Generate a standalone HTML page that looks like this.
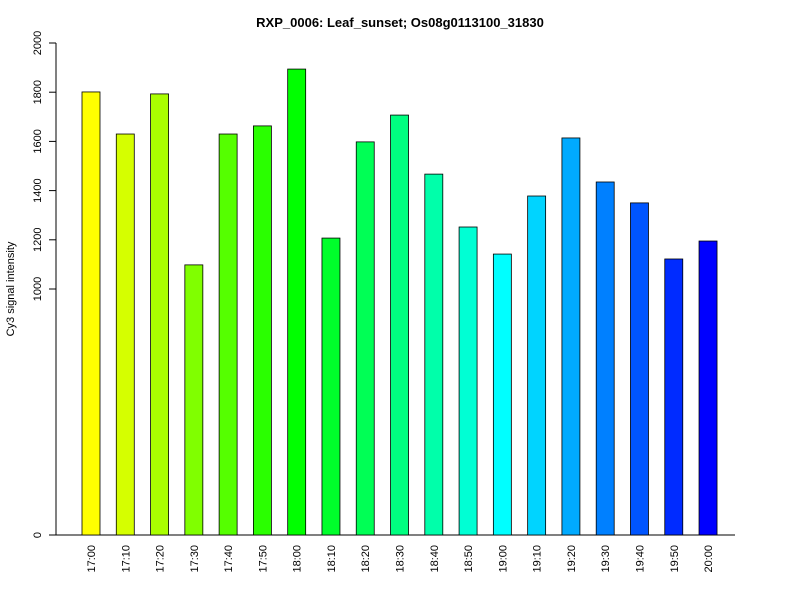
<!DOCTYPE html>
<html><head><meta charset="utf-8"><style>
body{margin:0;background:#fff;font-family:"Liberation Sans",sans-serif}
</style></head><body>
<svg width="800" height="600" xmlns="http://www.w3.org/2000/svg" font-family="Liberation Sans, sans-serif">
<text x="400" y="27" text-anchor="middle" font-weight="bold" font-size="13">RXP_0006: Leaf_sunset; Os08g0113100_31830</text>
<text transform="translate(14,289) rotate(-90)" text-anchor="middle" font-size="11">Cy3 signal intensity</text>
<g id="g"></g>
</svg>
<script>
const categories=["17:00","17:10","17:20","17:30","17:40","17:50","18:00","18:10","18:20","18:30","18:40","18:50","19:00","19:10","19:20","19:30","19:40","19:50","20:00"];
const values=[1801,1630,1793,1098,1630,1663,1894,1207,1598,1707,1467,1252,1142,1378,1614,1435,1350,1122,1195];
const yTicks=[0,1000,1200,1400,1600,1800,2000];
const NS="http://www.w3.org/2000/svg",g=document.getElementById('g');
const y=v=>535-v*0.246, x=i=>91+i*34.28;
function mk(t,a){const e=document.createElementNS(NS,t);for(const k in a)e.setAttribute(k,a[k]);g.appendChild(e);return e;}
let ax=mk('line',{x1:56,x2:56,y1:y(0),y2:y(2000),stroke:'#000'});

yTicks.forEach(v=>{
 let l=mk('line',{x1:49,x2:56,y1:y(v),y2:y(v),stroke:'#000'});
 
 let t=mk('text',{transform:`translate(41,${y(v)}) rotate(-90)`,'text-anchor':'middle','font-size':11});
 t.textContent=v;
});
let bl=mk('line',{x1:56,x2:735,y1:535,y2:535,stroke:'#000'});

categories.forEach((c,i)=>{
 let r=mk('rect',{x:x(i)-9,y:y(values[i]),width:18,height:535-y(values[i]),fill:`hsl(${60+i*10},100%,50%)`,stroke:'#000','stroke-width':0.8});
 
 let t=mk('text',{transform:`translate(${x(i)+4},545) rotate(-90)`,'text-anchor':'end','font-size':11});
 t.textContent=c;
});
</script>
</body></html>
